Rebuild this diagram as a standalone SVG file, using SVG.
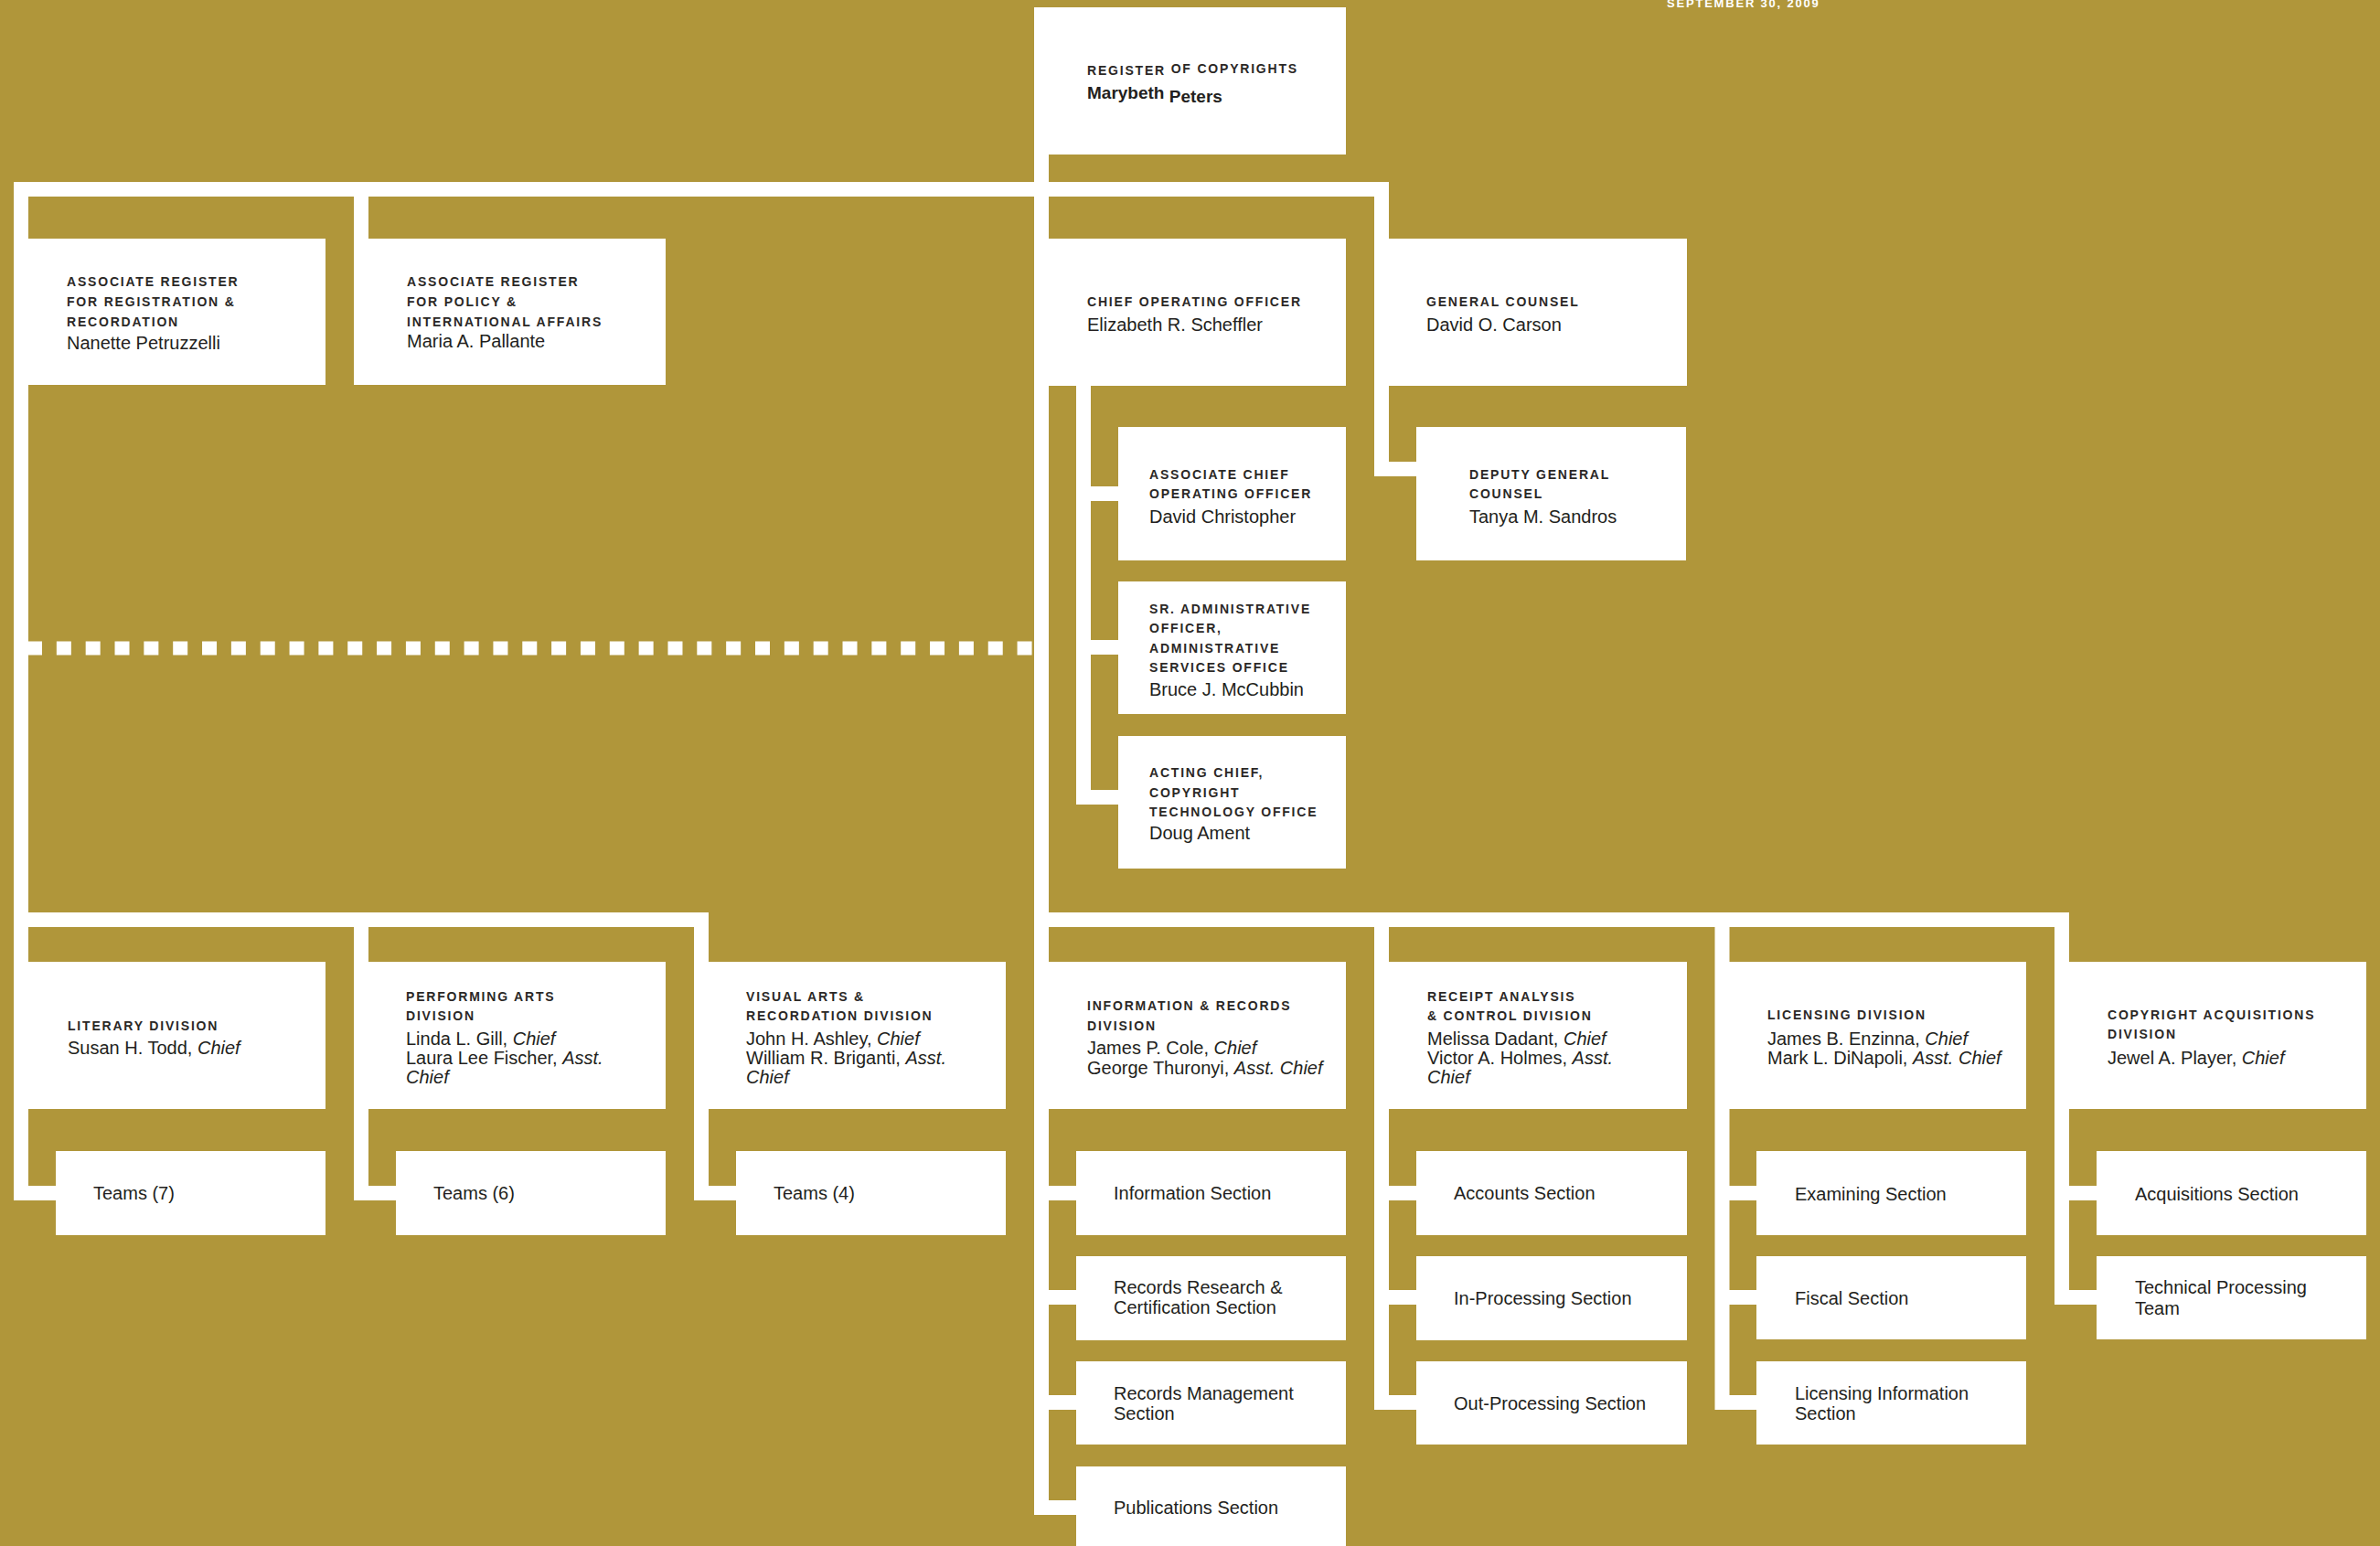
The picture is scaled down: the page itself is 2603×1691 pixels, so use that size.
<svg xmlns="http://www.w3.org/2000/svg" width="2603" height="1691" viewBox="0 0 2603 1691">
<style>
.bg{fill:#B0963A}
.box{fill:#FFFFFF}
.ln{fill:none;stroke:#FFFFFF;stroke-width:16;stroke-linejoin:miter;stroke-linecap:butt}
.dash{fill:none;stroke:#FFFFFF;stroke-width:15;stroke-dasharray:16 15.84}
text{font-family:"Liberation Sans",Arial,sans-serif;fill:#231F20}
.t{font-size:14px;font-weight:bold;letter-spacing:1.8px;fill:#2B2826}
.n{font-size:20px}
.rn{font-size:19px;font-weight:bold}
.s{font-size:20px}
.i{font-style:italic}
.date{font-size:13px;font-weight:bold;letter-spacing:1.8px;fill:#FFFFFF}
</style>
<rect class="bg" x="0" y="0" width="2603" height="1691"/>
<text class="date" x="1823" y="8">SEPTEMBER 30, 2009</text>

<g id="connectors">
<path class="ln" d="M1139 169 V1649 H1177"/>
<path class="ln" d="M61 1305 H23 V207 H1511 V513 H1549"/>
<path class="ln" d="M395 207 V261"/>
<path class="ln" d="M1185 422 V872 H1223"/>
<path class="ln" d="M1185 540 H1223"/>
<path class="ln" d="M1185 708 H1223"/>
<path class="dash" d="M30 709 H1131"/>
<path class="ln" d="M23 1006 H767 V1305 H805"/>
<path class="ln" d="M395 1006 V1305 H433"/>
<path class="ln" d="M1139 1006 H2255 V1419 H2293"/>
<path class="ln" d="M2255 1305 H2293"/>
<path class="ln" d="M1511 1006 V1534 H1549"/>
<path class="ln" d="M1511 1305 H1549"/>
<path class="ln" d="M1511 1419 H1549"/>
<path class="ln" d="M1883.5 1006 V1534 H1921"/>
<path class="ln" d="M1883.5 1305 H1921"/>
<path class="ln" d="M1883.5 1419 H1921"/>
<path class="ln" d="M1139 1305 H1177"/>
<path class="ln" d="M1139 1419 H1177"/>
<path class="ln" d="M1139 1534 H1177"/>
</g>

<g id="register">
<rect class="box" x="1131" y="8" width="341" height="161"/>
<text class="t" x="1189" y="82">REGISTER<tspan dy="-2"> OF COPYRIGHTS</tspan></text>
<text class="rn" x="1189" y="108">Marybeth<tspan dy="4"> Peters</tspan></text>
</g>

<g id="assoc-reg-registration">
<rect class="box" x="31" y="261" width="325" height="160"/>
<text class="t" x="73" y="313">ASSOCIATE REGISTER</text>
<text class="t" x="73" y="335">FOR REGISTRATION &amp;</text>
<text class="t" x="73" y="357">RECORDATION</text>
<text class="n" x="73" y="382">Nanette Petruzzelli</text>
</g>

<g id="assoc-reg-policy">
<rect class="box" x="387" y="261" width="341" height="160"/>
<text class="t" x="445" y="313">ASSOCIATE REGISTER</text>
<text class="t" x="445" y="335">FOR POLICY &amp;</text>
<text class="t" x="445" y="357">INTERNATIONAL AFFAIRS</text>
<text class="n" x="445" y="380">Maria A. Pallante</text>
</g>

<g id="coo">
<rect class="box" x="1147" y="261" width="325" height="161"/>
<text class="t" x="1189" y="335">CHIEF OPERATING OFFICER</text>
<text class="n" x="1189" y="362">Elizabeth R. Scheffler</text>
</g>

<g id="general-counsel">
<rect class="box" x="1519" y="261" width="326" height="161"/>
<text class="t" x="1560" y="335">GENERAL COUNSEL</text>
<text class="n" x="1560" y="362">David O. Carson</text>
</g>

<g id="assoc-coo">
<rect class="box" x="1223" y="467" width="249" height="146"/>
<text class="t" x="1257" y="524">ASSOCIATE CHIEF</text>
<text class="t" x="1257" y="545">OPERATING OFFICER</text>
<text class="n" x="1257" y="572">David Christopher</text>
</g>

<g id="deputy-gc">
<rect class="box" x="1549" y="467" width="295" height="146"/>
<text class="t" x="1607" y="524">DEPUTY GENERAL</text>
<text class="t" x="1607" y="545">COUNSEL</text>
<text class="n" x="1607" y="572">Tanya M. Sandros</text>
</g>

<g id="sr-admin">
<rect class="box" x="1223" y="636" width="249" height="145"/>
<text class="t" x="1257" y="671">SR. ADMINISTRATIVE</text>
<text class="t" x="1257" y="692">OFFICER,</text>
<text class="t" x="1257" y="714">ADMINISTRATIVE</text>
<text class="t" x="1257" y="735">SERVICES OFFICE</text>
<text class="n" x="1257" y="761">Bruce J. McCubbin</text>
</g>

<g id="acting-chief-cto">
<rect class="box" x="1223" y="805" width="249" height="145"/>
<text class="t" x="1257" y="850">ACTING CHIEF,</text>
<text class="t" x="1257" y="872">COPYRIGHT</text>
<text class="t" x="1257" y="893">TECHNOLOGY OFFICE</text>
<text class="n" x="1257" y="918">Doug Ament</text>
</g>

<g id="literary">
<rect class="box" x="31" y="1052" width="325" height="161"/>
<text class="t" x="74" y="1127">LITERARY DIVISION</text>
<text class="n" x="74" y="1153">Susan H. Todd, <tspan class="i">Chief</tspan></text>
</g>
<g id="teams-7">
<rect class="box" x="61" y="1259" width="295" height="92"/>
<text class="s" x="102" y="1312">Teams (7)</text>
</g>

<g id="performing-arts">
<rect class="box" x="403" y="1052" width="325" height="161"/>
<text class="t" x="444" y="1095">PERFORMING ARTS</text>
<text class="t" x="444" y="1116">DIVISION</text>
<text class="n" x="444" y="1143">Linda L. Gill, <tspan class="i">Chief</tspan></text>
<text class="n" x="444" y="1164">Laura Lee Fischer, <tspan class="i">Asst.</tspan></text>
<text class="n i" x="444" y="1185">Chief</text>
</g>
<g id="teams-6">
<rect class="box" x="433" y="1259" width="295" height="92"/>
<text class="s" x="474" y="1312">Teams (6)</text>
</g>

<g id="visual-arts">
<rect class="box" x="775" y="1052" width="325" height="161"/>
<text class="t" x="816" y="1095">VISUAL ARTS &amp;</text>
<text class="t" x="816" y="1116">RECORDATION DIVISION</text>
<text class="n" x="816" y="1143">John H. Ashley, <tspan class="i">Chief</tspan></text>
<text class="n" x="816" y="1164">William R. Briganti, <tspan class="i">Asst.</tspan></text>
<text class="n i" x="816" y="1185">Chief</text>
</g>
<g id="teams-4">
<rect class="box" x="805" y="1259" width="295" height="92"/>
<text class="s" x="846" y="1312">Teams (4)</text>
</g>

<g id="info-records">
<rect class="box" x="1147" y="1052" width="325" height="161"/>
<text class="t" x="1189" y="1105">INFORMATION &amp; RECORDS</text>
<text class="t" x="1189" y="1127">DIVISION</text>
<text class="n" x="1189" y="1153">James P. Cole, <tspan class="i">Chief</tspan></text>
<text class="n" x="1189" y="1175">George Thuronyi, <tspan class="i">Asst. Chief</tspan></text>
</g>
<g id="information-section">
<rect class="box" x="1177" y="1259" width="295" height="92"/>
<text class="s" x="1218" y="1312">Information Section</text>
</g>
<g id="records-research">
<rect class="box" x="1177" y="1374" width="295" height="92"/>
<text class="s" x="1218" y="1415">Records Research &amp;</text>
<text class="s" x="1218" y="1437">Certification Section</text>
</g>
<g id="records-management">
<rect class="box" x="1177" y="1489" width="295" height="91"/>
<text class="s" x="1218" y="1531">Records Management</text>
<text class="s" x="1218" y="1553">Section</text>
</g>
<g id="publications">
<rect class="box" x="1177" y="1604" width="295" height="100"/>
<text class="s" x="1218" y="1656">Publications Section</text>
</g>

<g id="receipt-analysis">
<rect class="box" x="1519" y="1052" width="326" height="161"/>
<text class="t" x="1561" y="1095">RECEIPT ANALYSIS</text>
<text class="t" x="1561" y="1116">&amp; CONTROL DIVISION</text>
<text class="n" x="1561" y="1143">Melissa Dadant, <tspan class="i">Chief</tspan></text>
<text class="n" x="1561" y="1164">Victor A. Holmes, <tspan class="i">Asst.</tspan></text>
<text class="n i" x="1561" y="1185">Chief</text>
</g>
<g id="accounts">
<rect class="box" x="1549" y="1259" width="296" height="92"/>
<text class="s" x="1590" y="1312">Accounts Section</text>
</g>
<g id="in-processing">
<rect class="box" x="1549" y="1374" width="296" height="92"/>
<text class="s" x="1590" y="1427">In-Processing Section</text>
</g>
<g id="out-processing">
<rect class="box" x="1549" y="1489" width="296" height="91"/>
<text class="s" x="1590" y="1542">Out-Processing Section</text>
</g>

<g id="licensing">
<rect class="box" x="1891" y="1052" width="325" height="161"/>
<text class="t" x="1933" y="1115">LICENSING DIVISION</text>
<text class="n" x="1933" y="1143">James B. Enzinna, <tspan class="i">Chief</tspan></text>
<text class="n" x="1933" y="1164">Mark L. DiNapoli, <tspan class="i">Asst. Chief</tspan></text>
</g>
<g id="examining">
<rect class="box" x="1921" y="1259" width="295" height="92"/>
<text class="s" x="1963" y="1313">Examining Section</text>
</g>
<g id="fiscal">
<rect class="box" x="1921" y="1374" width="295" height="91"/>
<text class="s" x="1963" y="1427">Fiscal Section</text>
</g>
<g id="licensing-info">
<rect class="box" x="1921" y="1489" width="295" height="91"/>
<text class="s" x="1963" y="1531">Licensing Information</text>
<text class="s" x="1963" y="1553">Section</text>
</g>

<g id="copyright-acquisitions">
<rect class="box" x="2263" y="1052" width="325" height="161"/>
<text class="t" x="2305" y="1115">COPYRIGHT ACQUISITIONS</text>
<text class="t" x="2305" y="1136">DIVISION</text>
<text class="n" x="2305" y="1164">Jewel A. Player, <tspan class="i">Chief</tspan></text>
</g>
<g id="acquisitions">
<rect class="box" x="2293" y="1259" width="295" height="92"/>
<text class="s" x="2335" y="1313">Acquisitions Section</text>
</g>
<g id="technical-processing">
<rect class="box" x="2293" y="1374" width="295" height="91"/>
<text class="s" x="2335" y="1415">Technical Processing</text>
<text class="s" x="2335" y="1438">Team</text>
</g>
</svg>
